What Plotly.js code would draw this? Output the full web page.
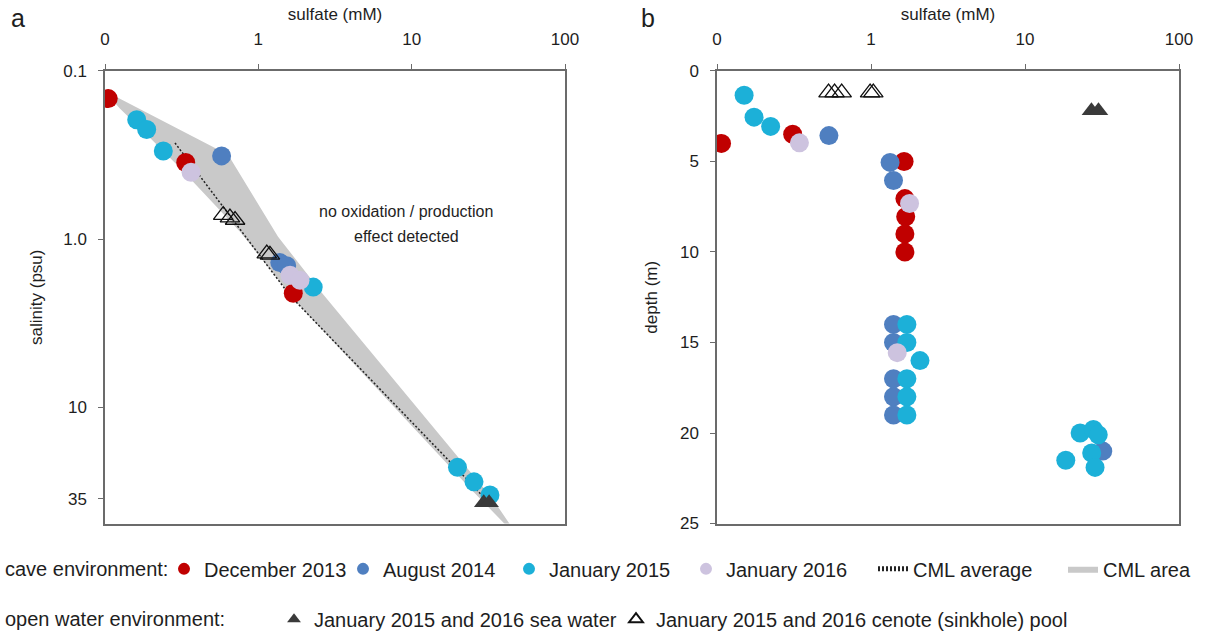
<!DOCTYPE html>
<html><head><meta charset="utf-8">
<script src="https://cdn.plot.ly/plotly-3.0.1.min.js"></script>
<style>html,body{margin:0;padding:0;background:#fff}#chart{width:1220px;height:639px}</style>
</head><body><div id="chart"></div>
<script>
// ---------- Panel a: sulfate (mM) vs salinity (psu) ----------
const dec13_a_sulfate  = [0.105, 0.336, 1.69];
const dec13_a_salinity = [0.146, 0.35, 2.1];
const aug14_a_sulfate  = [0.576, 1.38, 1.53];
const aug14_a_salinity = [0.32, 1.38, 1.44];
const jan15_a_sulfate  = [0.161, 0.187, 0.240, 2.28, 19.9, 25.5, 32.4];
const jan15_a_salinity = [0.195, 0.223, 0.299, 1.93, 22.8, 27.8, 33.3];
const jan16_a_sulfate  = [0.364, 1.61, 1.87];
const jan16_a_salinity = [0.40, 1.64, 1.76];
const sea_a_sulfate    = [29.5, 32.0];
const sea_a_salinity   = [37, 37];
const cenote_a_sulfate  = [0.59, 0.653, 0.705, 1.135, 1.19];
const cenote_a_salinity = [0.72, 0.745, 0.77, 1.22, 1.24];
const cmlAvg_sulfate  = [0.286, 0.819, 1.61, 25.2, 30.5];
const cmlAvg_salinity = [0.268, 0.967, 2.17, 29.4, 35.6];
const cmlArea_sulfate  = [0.099, 0.522, 0.653, 1.345, 2.53, 33.4, 45.2, 42.6, 24.0, 1.735, 0.76, 0.308, 0.197, 0.125, 0.099];
const cmlArea_salinity = [0.131, 0.287, 0.328, 0.967, 2.03, 34.7, 52, 52, 30.3, 2.33, 0.903, 0.376, 0.25, 0.167, 0.131];

// ---------- Panel b: sulfate (mM) vs depth (m) ----------
const dec13_b_sulfate = [0.107, 0.310, 1.64, 1.66, 1.68, 1.66, 1.66];
const dec13_b_depth   = [4.0, 3.5, 5.0, 7.05, 8.05, 9.0, 10.0];
const aug14_b_sulfate = [0.533, 1.33, 1.40, 1.40, 1.40, 1.40, 1.40, 1.40, 32];
const aug14_b_depth   = [3.57, 5.05, 6.05, 14, 15, 17, 18, 19, 21.0];
const jan15_b_sulfate = [0.150, 0.174, 0.223, 1.71, 1.71, 2.08, 1.71, 1.71, 1.71, 22.8, 27.8, 29.9, 27.1, 18.4, 28.5];
const jan15_b_depth   = [1.34, 2.55, 3.06, 14, 15, 16, 17, 18, 19, 20.0, 19.8, 20.1, 21.1, 21.5, 21.9];
const jan16_b_sulfate = [0.343, 1.78, 1.48];
const jan16_b_depth   = [3.97, 7.32, 15.56];
const sea_b_sulfate   = [27.0, 30.0];
const sea_b_depth     = [2.2, 2.2];
const cenote_b_sulfate = [0.53, 0.58, 0.645, 0.987, 1.035];
const cenote_b_depth   = [1.19, 1.19, 1.19, 1.19, 1.19];

// ---------- ticks ----------
const sulfateTickVals = [0.1, 1, 10, 100];
const sulfateTickText = ['0', '1', '10', '100'];
const salinityTickVals = [0.1, 1, 10, 35];
const salinityTickText = ['0.1', '1.0', '10', '35'];
const depthTickVals = [0, 5, 10, 15, 20, 25];

const W = 1220, H = 639;
const FONT = 'Arial, "Liberation Sans", Helvetica, sans-serif';
const TXT = '#1e1e1e';
const C = {dec13: '#c00000', aug14: '#4f7fc0', jan15: '#1cb0d8', jan16: '#cdc3df', sea: '#3a3a3a'};
const MS = 19;

function circ(name, x, y, color, xa, ya, show, rank, lw) {
  return {type: 'scatter', mode: 'markers', name: name, x: x, y: y, xaxis: xa, yaxis: ya,
    legendgroup: name, showlegend: show, legendrank: rank, legendwidth: lw,
    marker: {size: MS, color: color, line: {width: 0}}, hoverinfo: 'x+y+name'};
}
function tri(name, x, y, open, xa, ya, show, rank, lw) {
  return {type: 'scatter', mode: 'markers', name: name, x: x, y: y, xaxis: xa, yaxis: ya,
    legend: 'legend2', legendgroup: name, showlegend: show, legendrank: rank, legendwidth: lw,
    marker: open ? {symbol: 'triangle-up-open', size: 17, color: '#111', line: {width: 1.3, color: '#111'}}
                 : {symbol: 'triangle-up', size: 17, color: C.sea, line: {width: 0}},
    hoverinfo: 'x+y+name'};
}

const traces = [
  {type: 'scatter', mode: 'lines', name: 'CML area', x: cmlArea_sulfate, y: cmlArea_salinity,
   xaxis: 'x', yaxis: 'y', fill: 'toself', fillcolor: '#c9c9c9', line: {width: 0, color: '#c9c9c9'},
   legendrank: 6, legendwidth: 100, hoverinfo: 'skip'},
  {type: 'scatter', mode: 'lines', name: 'CML average', x: cmlAvg_sulfate, y: cmlAvg_salinity,
   xaxis: 'x', yaxis: 'y', line: {width: 1.5, color: '#222', dash: '2px,2px'},
   legendrank: 5, legendwidth: 145, hoverinfo: 'skip'},
  circ('December 2013', dec13_a_sulfate, dec13_a_salinity, C.dec13, 'x', 'y', true, 1, 134),
  circ('August 2014', aug14_a_sulfate, aug14_a_salinity, C.aug14, 'x', 'y', true, 2, 121),
  circ('January 2015', jan15_a_sulfate, jan15_a_salinity, C.jan15, 'x', 'y', true, 3, 132),
  circ('January 2016', jan16_a_sulfate, jan16_a_salinity, C.jan16, 'x', 'y', true, 4, 142),
  tri('January 2015 and 2016 sea water', sea_a_sulfate, sea_a_salinity, false, 'x', 'y', true, 1, 297),
  tri('January 2015 and 2016 cenote (sinkhole) pool', cenote_a_sulfate, cenote_a_salinity, true, 'x', 'y', true, 2, 430),
  circ('December 2013', dec13_b_sulfate, dec13_b_depth, C.dec13, 'x2', 'y2', false, 1),
  circ('August 2014', aug14_b_sulfate, aug14_b_depth, C.aug14, 'x2', 'y2', false, 2),
  circ('January 2015', jan15_b_sulfate, jan15_b_depth, C.jan15, 'x2', 'y2', false, 3),
  circ('January 2016', jan16_b_sulfate, jan16_b_depth, C.jan16, 'x2', 'y2', false, 4),
  tri('January 2015 and 2016 sea water', sea_b_sulfate, sea_b_depth, false, 'x2', 'y2', false, 1),
  tri('January 2015 and 2016 cenote (sinkhole) pool', cenote_b_sulfate, cenote_b_depth, true, 'x2', 'y2', false, 2)
];

const TICK = 17, TITLE = 17, LEG = 20;
const axLine = {showline: true, linecolor: '#6b6b6b', linewidth: 1.5, mirror: true, showgrid: false,
  zeroline: false, ticks: 'outside', ticklen: 5, tickwidth: 1.2, tickcolor: '#6b6b6b',
  tickfont: {family: FONT, size: TICK, color: TXT}};

const yTop = 72, yBot = 531;
const yDom = [1 - yBot / H, 1 - yTop / H];
const titleFont = {family: FONT, size: TITLE, color: TXT};

const layout = {
  width: W, height: H, margin: {l: 0, r: 0, t: 0, b: 0},
  paper_bgcolor: '#fff', plot_bgcolor: '#fff',
  font: {family: FONT, size: 16, color: TXT},
  showlegend: true,
  xaxis: Object.assign({}, axLine, {domain: [105 / W, 565 / W], type: 'log', range: [-1, 2], side: 'top',
    tickvals: sulfateTickVals, ticktext: sulfateTickText, ticklabelstandoff: 12,
    title: {text: 'sulfate (mM)', font: titleFont, standoff: 5}, anchor: 'y'}),
  yaxis: Object.assign({}, axLine, {domain: yDom, type: 'log', range: [Math.log10(49.2), -1],
    tickvals: salinityTickVals, ticktext: salinityTickText, ticklabelstandoff: 8,
    title: {text: 'salinity (psu)', font: titleFont, standoff: 16}, anchor: 'x'}),
  xaxis2: Object.assign({}, axLine, {domain: [717 / W, 1179 / W], type: 'log', range: [-1, 2], side: 'top',
    tickvals: sulfateTickVals, ticktext: sulfateTickText, ticklabelstandoff: 12,
    title: {text: 'sulfate (mM)', font: titleFont, standoff: 5}, anchor: 'y2'}),
  yaxis2: Object.assign({}, axLine, {domain: yDom, range: [25, 0],
    tickvals: depthTickVals, ticklabelstandoff: 8,
    title: {text: 'depth (m)', font: titleFont, standoff: 18}, anchor: 'x2'}),
  legend: {orientation: 'h', x: 164 / W, xanchor: 'left', y: 1 - 577 / H, yanchor: 'middle',
    font: {family: FONT, size: LEG, color: TXT}, itemsizing: 'constant', bgcolor: 'rgba(0,0,0,0)',
    traceorder: 'normal', itemclick: false, itemdoubleclick: false},
  legend2: {orientation: 'h', x: 274 / W, xanchor: 'left', y: 1 - 628 / H, yanchor: 'middle',
    font: {family: FONT, size: LEG, color: TXT}, itemsizing: 'constant', bgcolor: 'rgba(0,0,0,0)',
    traceorder: 'normal', itemclick: false, itemdoubleclick: false},
  annotations: [
    {text: 'a', xref: 'paper', yref: 'paper', x: 9 / W, y: 1 - 18 / H, xanchor: 'left', yanchor: 'middle',
     showarrow: false, font: {family: FONT, size: 25, color: TXT}},
    {text: 'b', xref: 'paper', yref: 'paper', x: 639 / W, y: 1 - 18 / H, xanchor: 'left', yanchor: 'middle',
     showarrow: false, font: {family: FONT, size: 25, color: TXT}},
    {text: 'no oxidation / production', xref: 'paper', yref: 'paper',
     x: 406 / W, y: 1 - 215 / H, xanchor: 'center', yanchor: 'middle', showarrow: false,
     font: {family: FONT, size: 16, color: TXT}},
    {text: 'effect detected', xref: 'paper', yref: 'paper',
     x: 406 / W, y: 1 - 240 / H, xanchor: 'center', yanchor: 'middle', showarrow: false,
     font: {family: FONT, size: 16, color: TXT}},
    {text: 'cave environment:', xref: 'paper', yref: 'paper', x: 3 / W, y: 1 - 577 / H,
     xanchor: 'left', yanchor: 'middle', showarrow: false, font: {family: FONT, size: LEG, color: TXT}},
    {text: 'open water environment:', xref: 'paper', yref: 'paper', x: 3 / W, y: 1 - 628 / H,
     xanchor: 'left', yanchor: 'middle', showarrow: false, font: {family: FONT, size: LEG, color: TXT}}
  ]
};

Plotly.newPlot('chart', traces, layout, {displayModeBar: false, staticPlot: false});
</script>
</body></html>
